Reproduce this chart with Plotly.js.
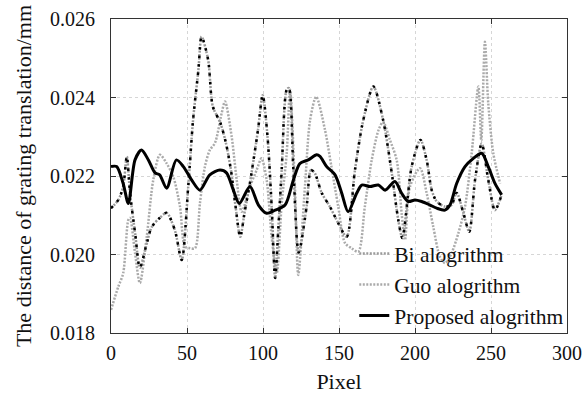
<!DOCTYPE html>
<html>
<head>
<meta charset="utf-8">
<script src="https://cdn.plot.ly/plotly-3.0.1.min.js"></script>
<style>html,body{margin:0;padding:0;background:#fff;}#chart{width:588px;height:394px;}</style>
</head>
<body>
<div id="chart"></div>
<script>
// Bi algorithm
const xBi = [0, 4.8, 8, 10.4, 12.5, 16, 19, 23, 26.8, 32, 36.6, 42, 46.5, 50.8, 54, 57.5, 59.6, 63.9, 67, 72, 75.6, 78.9, 82, 85, 88, 91.4, 96.7, 99.8, 103, 105.7, 108, 110, 112.3, 115.6, 117, 120, 123.5, 128.7, 131.5, 134, 138.6, 144, 149.5, 155, 160.5, 166, 172.6, 179, 184.7, 189, 191.7, 197.8, 203.6, 207.7, 211, 214.3, 219.7, 224, 227.4, 231.8, 235.7, 239.5, 243.9, 248.2, 252.6, 257];
const yBi = [0.02118, 0.02139, 0.02173, 0.0225, 0.02157, 0.0205, 0.01966, 0.0202, 0.0207, 0.02093, 0.02106, 0.02062, 0.01986, 0.02173, 0.02343, 0.0247, 0.02555, 0.02496, 0.02377, 0.02335, 0.02284, 0.02215, 0.02121, 0.02045, 0.0211, 0.02182, 0.02317, 0.02406, 0.02299, 0.02122, 0.0194, 0.0206, 0.02215, 0.0242, 0.02424, 0.02215, 0.02005, 0.02122, 0.02215, 0.02208, 0.02157, 0.02122, 0.0208, 0.02045, 0.02215, 0.02343, 0.02428, 0.02343, 0.02208, 0.02088, 0.02042, 0.02224, 0.02292, 0.0224, 0.02164, 0.02135, 0.02122, 0.02126, 0.02157, 0.02106, 0.02058, 0.0219, 0.02283, 0.0219, 0.02113, 0.02152];

// Guo algorithm
const xGuo = [0, 4.8, 8, 11.4, 12.5, 15.8, 19, 23.5, 27.8, 32.2, 36.6, 41, 45.4, 48.7, 52, 55.3, 58.5, 61.8, 65, 68.4, 72.8, 75, 79.4, 82.7, 86, 91.4, 95.8, 99, 102.4, 105.7, 109, 112.3, 115.6, 117.8, 121, 123.2, 127.6, 131, 135, 140.8, 145, 149.5, 154, 158.3, 162.7, 167, 171.5, 176, 179, 183.5, 188, 191.2, 193.4, 196.7, 203.3, 207.7, 212, 216.4, 219.7, 224, 228.5, 232.9, 237.3, 241.7, 243.6, 246, 248.2, 251.5, 256];
const yGuo = [0.01859, 0.01918, 0.01952, 0.02088, 0.02093, 0.02004, 0.01927, 0.02045, 0.0219, 0.02254, 0.02232, 0.02198, 0.02122, 0.0202, 0.02016, 0.02016, 0.0213, 0.02224, 0.02266, 0.02284, 0.0236, 0.0239, 0.023, 0.0219, 0.02109, 0.02173, 0.02215, 0.02245, 0.0219, 0.02045, 0.01952, 0.0213, 0.02258, 0.0242, 0.02173, 0.01948, 0.02173, 0.02343, 0.02402, 0.02317, 0.02224, 0.02122, 0.02029, 0.02016, 0.02007, 0.02122, 0.0224, 0.02317, 0.02338, 0.02292, 0.0224, 0.02105, 0.02037, 0.02173, 0.0222, 0.02156, 0.02071, 0.01994, 0.01978, 0.02003, 0.02054, 0.02122, 0.02258, 0.02428, 0.0229, 0.02542, 0.02385, 0.02258, 0.02181];

// Proposed algorithm
const xProp = [0, 3.7, 8, 11.4, 15.8, 20, 24.6, 29, 32, 36.6, 43, 47.6, 53, 58.5, 65, 71.7, 76, 80.5, 84.4, 91.4, 97, 102.4, 108, 114.5, 120, 124.3, 129.8, 135.3, 137.5, 141.9, 147.4, 151.8, 156, 161.6, 165, 170.4, 175.9, 180.3, 186.8, 191.2, 195.6, 200, 204.4, 209.9, 214.3, 219.7, 223, 227.4, 232.9, 238.4, 243.9, 248.2, 252.6, 257];
const yProp = [0.02224, 0.02224, 0.02181, 0.0213, 0.02241, 0.02266, 0.02241, 0.02208, 0.02203, 0.02169, 0.02241, 0.02224, 0.0219, 0.02164, 0.02203, 0.02215, 0.02208, 0.02164, 0.0213, 0.02173, 0.02126, 0.02105, 0.02113, 0.02126, 0.0219, 0.02232, 0.02241, 0.02254, 0.0225, 0.02224, 0.02203, 0.02156, 0.02109, 0.02156, 0.02177, 0.02173, 0.02177, 0.02164, 0.02186, 0.02156, 0.02135, 0.02139, 0.02135, 0.02126, 0.02118, 0.02113, 0.02126, 0.02181, 0.02224, 0.02245, 0.02258, 0.02224, 0.02181, 0.02152];

const names = ['Bi alogrithm', 'Guo alogrithm', 'Proposed alogrithm'];
const xTicks = [0, 50, 100, 150, 200, 250, 300];
const yTicks = [0.018, 0.020, 0.022, 0.024, 0.026];
const yTickText = ['0.018', '0.020', '0.022', '0.024', '0.026'];

const FONT = 'Liberation Serif, Times New Roman, serif';

const traces = [
  {x: xGuo, y: yGuo, name: names[1], mode: 'lines', legendrank: 2,
   line: {color: '#aaaaaa', width: 2.5, dash: '2px,1.5px', shape: 'spline', smoothing: 0.8}},
  {x: xBi, y: yBi, name: names[0], mode: 'lines', legendrank: 1,
   line: {color: '#9a9a9a', width: 2.5, dash: '2px,1.5px', shape: 'spline', smoothing: 0.8}},
  {x: xBi, y: yBi, name: names[0], mode: 'lines', showlegend: false,
   line: {color: '#000', width: 2.5, dash: '2.5px,6px', shape: 'spline', smoothing: 0.8}},
  {x: xProp, y: yProp, name: names[2], mode: 'lines', legendrank: 3,
   line: {color: '#000', width: 3, shape: 'spline', smoothing: 0.8}}
];

const axisCommon = {
  showline: true, linecolor: '#333', linewidth: 1, mirror: 'allticks',
  ticks: 'inside', ticklen: 5, tickcolor: '#333',
  showgrid: true, gridcolor: '#d6d6d6', griddash: '3px,3px', gridwidth: 1,
  zeroline: false,
  tickfont: {family: FONT, size: 20, color: '#111'}
};

const layout = {
  width: 588, height: 394,
  margin: {l: 111, r: 21, t: 19, b: 61},
  paper_bgcolor: '#fff', plot_bgcolor: '#fff',
  showlegend: true,
  legend: {x: 1.005, xanchor: 'right', y: -0.01, yanchor: 'bottom', bgcolor: 'rgba(0,0,0,0)',
           font: {family: FONT, size: 21.5, color: '#111'}, tracegroupgap: 0},
  xaxis: Object.assign({}, axisCommon, {
    range: [0, 300], tickvals: xTicks, ticklabelstandoff: 2,
    title: {text: 'Pixel', font: {family: FONT, size: 22, color: '#111'}, standoff: 10}
  }),
  yaxis: Object.assign({}, axisCommon, {
    range: [0.018, 0.026], tickvals: yTicks, ticktext: yTickText, ticklabelstandoff: 11,
    title: {text: 'The distance of grating translation/mm', font: {family: FONT, size: 22, color: '#111'}, standoff: 12}
  })
};

Plotly.newPlot('chart', traces, layout, {displayModeBar: false, staticPlot: true});
</script>
</body>
</html>
